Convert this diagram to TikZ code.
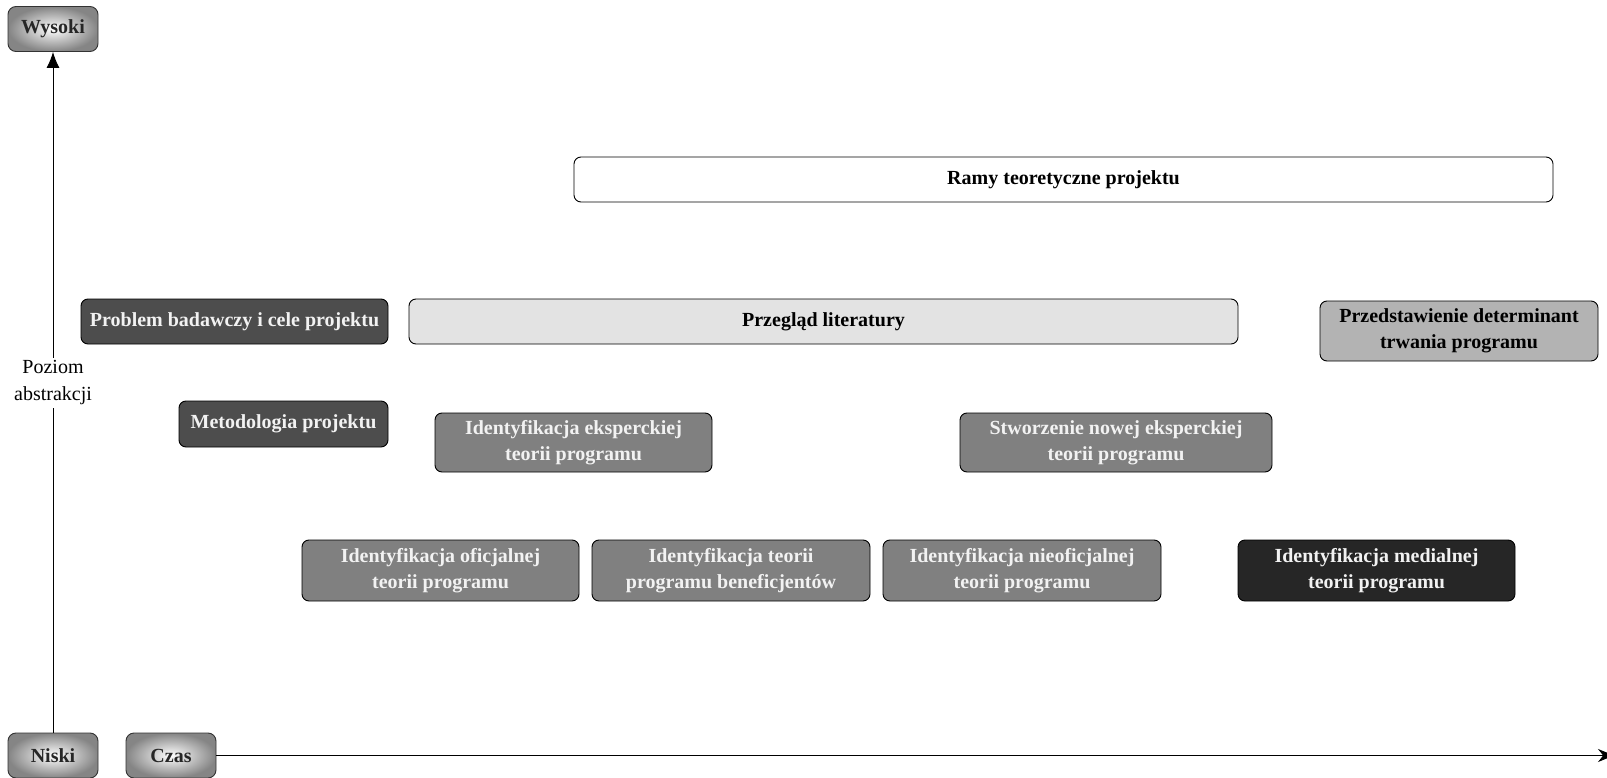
\documentclass[tikz,border=0pt]{standalone}
\usepackage{xcolor}
\usepackage{fontspec}
\setmainfont{Liberation Serif}
\usepackage{tikz}
\usetikzlibrary{shapes, arrows.meta, positioning}

\definecolor{etapciemny}{HTML}{4D4D4D}
\definecolor{etapsredni}{HTML}{808080}
\definecolor{etapczarny}{HTML}{262626}
\definecolor{etapjasny}{HTML}{B3B3B3}
\definecolor{etapbialy}{HTML}{E3E3E3}

\tikzset{
    etap/.style={draw=black, line width=0.9pt, rounded corners=7pt, align=center,
        inner sep=0pt, font=\fontsize{20}{26}\selectfont\bfseries, text=white!95!black},
    osbox/.style={draw=black!80, line width=0.9pt, rounded corners=8pt, inner sep=0pt,
        minimum width=90, minimum height=45, shading=radial, inner color=white,
        outer color=black!48, font=\fontsize{20}{26}\selectfont\bfseries, text=black!85}
}

\begin{document}
\begin{tikzpicture}[x=1pt, y=-1pt]
            \useasboundingbox (0,0) rectangle (1607,778);

            % osie
            \node[osbox] (wysoki) at (53,29) {Wysoki};
            \node[osbox] (niski) at (53,755.5) {Niski};
            \node[osbox] (czas) at (171,755.5) {Czas};
            \coordinate (koniec) at (1614,755.5);
            \draw[line width=0.9pt, -{Latex[length=16pt, width=13pt]}] (niski) -- (wysoki);
            \draw[line width=0.9pt, -{Stealth[length=16pt, width=13pt]}] (czas) -- (koniec);
            \node[fill=white, align=center, inner sep=3pt, font=\fontsize{20}{27}\selectfont] (poziom) at (53,383) {Poziom\\abstrakcji};

            % etapy
            \node[etap, fill=white, text=black, minimum width=979, minimum height=45] (ramy) at (1063.5,179.5) {Ramy teoretyczne projektu};
            \node[etap, fill=etapciemny, minimum width=307, minimum height=45] (problem) at (234.5,321.5) {Problem badawczy i cele projektu};
            \node[etap, fill=etapbialy, text=black, minimum width=829, minimum height=45] (przeglad) at (823.5,321.5) {Przegląd literatury};
            \node[etap, fill=etapjasny, text=black, minimum width=278, minimum height=60] (determinanty) at (1459,331) {Przedstawienie determinant\\trwania programu};
            \node[etap, fill=etapciemny, minimum width=209, minimum height=46] (metodologia) at (283.5,424) {Metodologia projektu};
            \node[etap, fill=etapsredni, minimum width=277, minimum height=59] (ekspercka) at (573.5,442.5) {Identyfikacja eksperckiej\\teorii programu};
            \node[etap, fill=etapsredni, minimum width=312, minimum height=59] (nowa) at (1116,442.5) {Stworzenie nowej eksperckiej\\teorii programu};
            \node[etap, fill=etapsredni, minimum width=277, minimum height=61] (oficjalna) at (440.5,570.5) {Identyfikacja oficjalnej\\teorii programu};
            \node[etap, fill=etapsredni, minimum width=278, minimum height=61] (beneficjenci) at (731,570.5) {Identyfikacja teorii\\programu beneficjentów};
            \node[etap, fill=etapsredni, minimum width=278, minimum height=61] (nieoficjalna) at (1022,570.5) {Identyfikacja nieoficjalnej\\teorii programu};
            \node[etap, fill=etapczarny, minimum width=277, minimum height=61] (medialna) at (1376.5,570.5) {Identyfikacja medialnej\\teorii programu};
        \end{tikzpicture}
\end{document}
